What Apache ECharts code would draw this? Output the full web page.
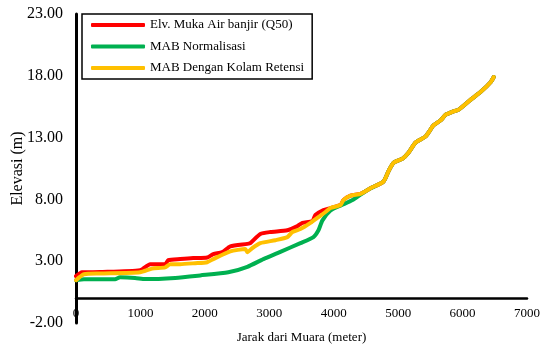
<!DOCTYPE html>
<html>
<head>
<meta charset="utf-8">
<script src="https://cdn.jsdelivr.net/npm/echarts@6/dist/echarts.min.js"></script>
<style>
  html, body { margin: 0; padding: 0; background: #fff; }
  #chart { width: 545px; height: 346px; }
</style>
</head>
<body>
<div id="chart"></div>
<script>
// Flood water level profiles along the river (distance from mouth, metres)
const seriesNames = ['Elv. Muka Air banjir (Q50)', 'MAB Normalisasi', 'MAB Dengan Kolam Retensi'];
const seriesColors = ['#FF0000', '#00B050', '#FFC000'];

const floodDist = [0, 93, 373, 995, 1151, 1384, 1431, 1617, 1819, 2037, 2130, 2270, 2395, 2659, 2706, 2861, 3017, 3281, 3437, 3514, 3670, 3716, 3841, 3950, 4105, 4152, 4261, 4416, 4572, 4774, 4852, 4929, 5069, 5163, 5271, 5427, 5551, 5660, 5738, 5847, 5940, 6127, 6282, 6438, 6484];
const floodElev = [1.79, 2.1, 2.12, 2.27, 2.76, 2.76, 3.08, 3.17, 3.25, 3.3, 3.57, 3.73, 4.2, 4.4, 4.46, 5.2, 5.36, 5.5, 5.84, 6.1, 6.25, 6.74, 7.14, 7.3, 7.55, 7.95, 8.3, 8.45, 8.9, 9.45, 10.3, 10.96, 11.3, 11.8, 12.6, 13.1, 14.0, 14.4, 14.85, 15.1, 15.26, 16.07, 16.7, 17.5, 17.9];

const normDist = [0, 124, 606, 684, 917, 1073, 1540, 1928, 2364, 2659, 2908, 3172, 3483, 3685, 3763, 3825, 3950, 4105, 4292, 4447, 4572, 4774, 4852, 4929, 5069, 5163, 5271, 5427, 5551, 5660, 5738, 5847, 5940, 6127, 6282, 6438, 6484];
const normElev = [1.46, 1.54, 1.54, 1.7, 1.65, 1.55, 1.65, 1.85, 2.1, 2.55, 3.17, 3.76, 4.46, 4.95, 5.5, 6.3, 7.1, 7.5, 7.95, 8.5, 8.9, 9.45, 10.3, 10.96, 11.3, 11.8, 12.6, 13.1, 14.0, 14.4, 14.85, 15.1, 15.26, 16.07, 16.7, 17.5, 17.9];

const retDist = [0, 124, 373, 995, 1182, 1384, 1462, 1617, 1850, 2037, 2130, 2395, 2628, 2659, 2737, 2861, 3095, 3281, 3359, 3483, 3639, 3763, 3872, 3950, 4105, 4152, 4261, 4416, 4572, 4774, 4852, 4929, 5069, 5163, 5271, 5427, 5551, 5660, 5738, 5847, 5940, 6127, 6282, 6438, 6484];
const retElev = [1.46, 1.95, 2.0, 2.1, 2.4, 2.5, 2.76, 2.76, 2.84, 2.92, 3.17, 3.8, 3.98, 3.73, 4.06, 4.46, 4.7, 4.95, 5.36, 5.6, 6.1, 6.57, 6.98, 7.3, 7.55, 7.95, 8.3, 8.45, 8.9, 9.45, 10.3, 10.96, 11.3, 11.8, 12.6, 13.1, 14.0, 14.4, 14.85, 15.1, 15.26, 16.07, 16.7, 17.5, 17.9];

const xTitle = 'Jarak dari Muara (meter)';
const yTitle = 'Elevasi (m)';

const FONT = '"Liberation Serif", "Times New Roman", serif';
const pairs = (xs, ys) => xs.map((x, i) => [x, ys[i]]);
const profiles = [pairs(floodDist, floodElev), pairs(normDist, normElev), pairs(retDist, retElev)];

const Y_MIN = -2, Y_MAX = 23;
const gridTop = 14, gridBottom = 23, chartH = 346;
// the distance axis sits on elevation 0, lifted from the bottom of the plot
const plotH = chartH - gridTop - gridBottom;
const zeroLift = plotH * (0 - Y_MIN) / (Y_MAX - Y_MIN);

const chart = echarts.init(document.getElementById('chart'), null, { renderer: 'canvas' });
chart.setOption({
  animation: false,
  backgroundColor: '#fff',
  grid: { left: 76, right: 18, top: gridTop, bottom: gridBottom, containLabel: false, outerBoundsMode: 'none' },
  legend: {
    left: 82, top: 14, orient: 'vertical',
    icon: 'roundRect', itemWidth: 54, itemHeight: 4, itemGap: 7.5,
    padding: [4, 8, 4, 9],
    borderColor: '#000', borderWidth: 1.5,
    textStyle: { fontFamily: FONT, fontSize: 13, color: '#000', lineHeight: 14 },
    data: seriesNames
  },
  xAxis: {
    type: 'value', min: 0, max: 7000, interval: 1000,
    position: 'bottom', offset: -zeroLift,
    name: xTitle, nameLocation: 'middle', nameGap: 33, nameMoveOverlap: false,
    nameTextStyle: { fontFamily: FONT, fontSize: 13, color: '#000' },
    axisLine: { onZero: false, lineStyle: { color: '#000', width: 2.5 } },
    axisTick: { show: false },
    axisLabel: { fontFamily: FONT, fontSize: 13, color: '#000', margin: 9, formatter: v => String(v) },
    splitLine: { show: false }
  },
  yAxis: {
    type: 'value', min: Y_MIN, max: Y_MAX, interval: 5,
    name: yTitle, nameLocation: 'middle', nameGap: 50, nameMoveOverlap: false,
    nameTextStyle: { fontFamily: FONT, fontSize: 16, color: '#000' },
    axisLine: { show: true, onZero: false, lineStyle: { color: '#000', width: 3 } },
    axisTick: { show: false },
    axisLabel: { fontFamily: FONT, fontSize: 16, color: '#000', margin: 13, formatter: v => v.toFixed(2) },
    splitLine: { show: false }
  },
  series: profiles.map((d, i) => ({
    name: seriesNames[i],
    type: 'line',
    data: d,
    showSymbol: false,
    smooth: 0.2,
    color: seriesColors[i],
    lineStyle: { width: 4, color: seriesColors[i], cap: 'round', join: 'round' },
    z: 2 + i
  }))
});
</script>
</body>
</html>
